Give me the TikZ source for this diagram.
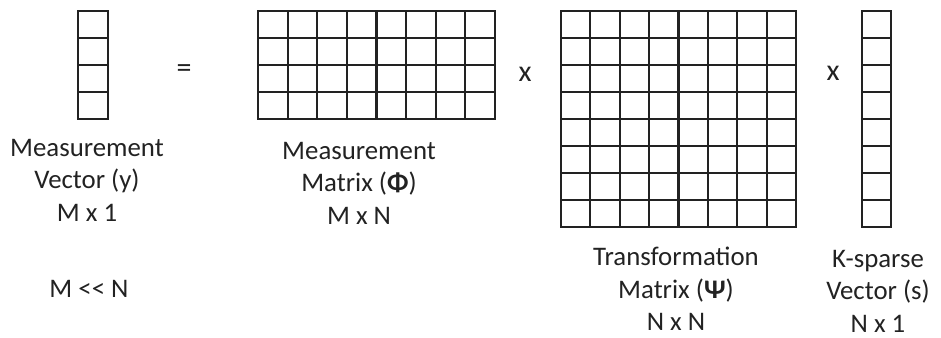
\documentclass[tikz,border=0pt]{standalone}
\usepackage{fontspec}
\setmainfont{Carlito}
\usepackage{tikz}
\usetikzlibrary{positioning,calc}
\definecolor{InkGray}{RGB}{34, 34, 34}

\tikzset{
  cell/.style={draw=InkGray, line width=1.1pt},
  caption/.style={align=center, text=InkGray, inner sep=1pt, font=\fontsize{13.4}{16.2}\selectfont},
  opsign/.style={text=InkGray, font=\fontsize{15}{18}\selectfont}
}

\begin{document}
\begin{tikzpicture}[x=0.5pt, y=-0.5pt]
  \useasboundingbox (0, 0) rectangle (941, 337);

  % Measurement vector (y): 4 x 1
  \draw[cell] (78, 11) rectangle (108, 119);
  \foreach \r in {1,...,3}
    \draw[cell] (78, 11+27*\r) -- (108, 11+27*\r);
  \node[caption] (ylabel) at (87, 180) {Measurement\\Vector (y)\\M x 1};
  \node[caption] (ratio) at (89, 289) {M <{}< N};

  % Equals sign
  \node[opsign] (eqsign) at (184, 71) {=};

  % Measurement matrix (Phi): 4 x 8
  \draw[cell] (258, 11) rectangle (495, 119);
  \foreach \c in {1,...,7}
    \draw[cell] (258+29.625*\c, 11) -- (258+29.625*\c, 119);
  \foreach \r in {1,...,3}
    \draw[cell] (258, 11+27*\r) -- (495, 11+27*\r);
  \node[caption] (philabel) at (359, 183) {Measurement\\Matrix (\textbf{Φ})\\M x N};

  % First product sign
  \node[opsign] (times1) at (525, 74) {x};

  % Transformation matrix (Psi): 8 x 8
  \draw[cell] (561, 11) rectangle (796, 227);
  \foreach \c in {1,...,7}
    \draw[cell] (561+29.375*\c, 11) -- (561+29.375*\c, 227);
  \foreach \r in {1,...,7}
    \draw[cell] (561, 11+27*\r) -- (796, 11+27*\r);
  \node[caption] (psilabel) at (676, 289) {Transformation\\Matrix (\textbf{Ψ})\\N x N};

  % Second product sign
  \node[opsign] (times2) at (833, 73) {x};

  % K-sparse vector (s): 8 x 1
  \draw[cell] (862, 11) rectangle (891, 227);
  \foreach \r in {1,...,7}
    \draw[cell] (862, 11+27*\r) -- (891, 11+27*\r);
  \node[caption] (slabel) at (878, 291) {K-sparse\\Vector (s)\\N x 1};
\end{tikzpicture}
\end{document}
